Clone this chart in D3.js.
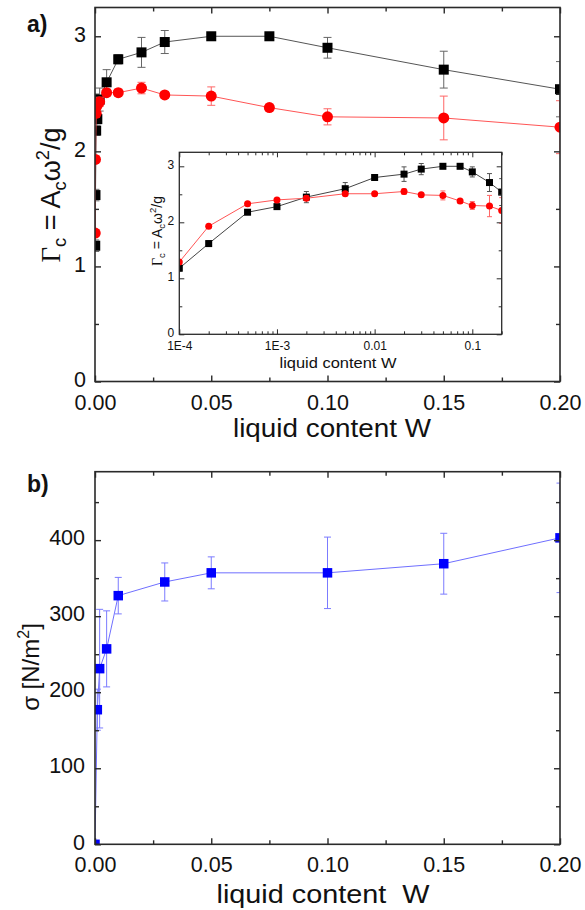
<!DOCTYPE html>
<html>
<head>
<meta charset="utf-8">
<script src="https://cdn.jsdelivr.net/npm/d3@7"></script>
<style>
  html, body { margin: 0; padding: 0; background: #fff; }
  svg { display: block; }
  text { font-family: "Liberation Sans", Arial, sans-serif; fill: #111; }
</style>
</head>
<body>
<svg id="chart" width="585" height="910"></svg>
<script>
// ---- Data: critical acceleration vs. liquid content ----
const liquidW   = [1e-4, 2e-4, 5e-4, 1e-3, 2e-3, 5e-3, 0.01, 0.02, 0.03, 0.05, 0.075, 0.1, 0.15, 0.2];
const gammaBlack    = [1.18, 1.62, 2.18, 2.28, 2.45, 2.60, 2.80, 2.86, 2.95, 3.00, 3.00, 2.90, 2.71, 2.54];
const gammaBlackErr = [0.05, 0.05, 0.04, 0.04, 0.10, 0.11, 0.04, 0.13, 0.10, 0.02, 0.03, 0.09, 0.16, 0.24];
const gammaRed      = [1.29, 1.93, 2.33, 2.40, 2.43, 2.51, 2.51, 2.55, 2.49, 2.48, 2.38, 2.30, 2.29, 2.21];
const gammaRedErr   = [0.03, 0.03, 0.03, 0.03, 0.04, 0.03, 0.03, 0.05, 0.03, 0.08, 0.03, 0.07, 0.19, 0.23];

// ---- Data: tensile strength vs. liquid content ----
const sigmaW   = [0, 0.001, 0.002, 0.005, 0.01, 0.03, 0.05, 0.1, 0.15, 0.2];
const sigma    = [0, 177, 231, 257, 327, 345, 357, 357, 369, 403];
const sigmaErr = [0, 27, 78, 50, 24, 25, 21, 47, 40, 72];

// ---- Tick values ----
const xTicksLin  = [0, 0.05, 0.10, 0.15, 0.20];
const xMinorLin  = [0.025, 0.075, 0.125, 0.175];
const gammaTicks = [0, 1, 2, 3];
const gammaMinor = [0.5, 1.5, 2.5];
const sigmaTicks = [0, 100, 200, 300, 400];
const sigmaMinor = [50, 150, 250, 350, 450];
const logTicks   = [1e-4, 1e-3, 1e-2, 1e-1];
const logLabels  = ["1E-4", "1E-3", "0.01", "0.1"];

const svg = d3.select("#chart");
const frameColor = "#2a2a2a";

const pts = (xs, ys, es) => xs.map((x, i) => ({x, y: ys[i], e: es[i]}));

// Frame + inward ticks on all four sides
function frame(g, x, y, opt) {
  const [x0, x1] = x.range(), [y0, y1] = y.range();
  const L = opt.major, l = opt.minor;
  const ax = (axis, tx, ty) => {
    const a = g.append("g").attr("transform", `translate(${tx},${ty})`).call(axis);
    a.select(".domain").remove();
    a.selectAll("line").attr("stroke", frameColor).attr("stroke-width", opt.tickW);
    return a;
  };
  const bottom = ax(d3.axisBottom(x).tickValues(opt.xTicks).tickSize(-L).tickPadding(opt.xPad)
      .tickFormat(opt.xFormat), 0, y0);
  bottom.selectAll("text").attr("font-size", opt.fs).attr("fill", "#111");
  ax(d3.axisBottom(x).tickValues(opt.xMinor).tickSize(-l).tickFormat(""), 0, y0);
  ax(d3.axisTop(x).tickValues(opt.xTicks).tickSize(-L).tickFormat(""), 0, y1);
  ax(d3.axisTop(x).tickValues(opt.xMinor).tickSize(-l).tickFormat(""), 0, y1);
  const left = ax(d3.axisLeft(y).tickValues(opt.yTicks).tickSize(-L).tickPadding(opt.yPad)
      .tickFormat(d3.format("d")), x0, 0);
  left.selectAll("text").attr("font-size", opt.fs).attr("fill", "#111").attr("dy", "0.22em");
  ax(d3.axisLeft(y).tickValues(opt.yMinor).tickSize(-l).tickFormat(""), x0, 0);
  ax(d3.axisRight(y).tickValues(opt.yTicks).tickSize(-L).tickFormat(""), x1, 0);
  ax(d3.axisRight(y).tickValues(opt.yMinor).tickSize(-l).tickFormat(""), x1, 0);
  g.append("rect").attr("x", x0).attr("y", y1).attr("width", x1 - x0).attr("height", y0 - y1)
    .attr("fill", "none").attr("stroke", frameColor).attr("stroke-width", opt.frameW);
}

function clip(id, x, y) {
  const [x0, x1] = x.range(), [y0, y1] = y.range();
  svg.append("clipPath").attr("id", id).append("rect")
    .attr("x", x0).attr("y", y1).attr("width", x1 - x0).attr("height", y0 - y1);
  return `url(#${id})`;
}

function series(g, data, x, y, s) {
  g.append("path").datum(data)
    .attr("d", d3.line().x(d => x(d.x)).y(d => y(d.y)))
    .attr("fill", "none").attr("stroke", s.line).attr("stroke-width", s.lineW);
  const eb = g.append("g").attr("stroke", s.err).attr("stroke-width", 1);
  data.filter(d => d.e > 0).forEach(d => {
    const cx = x(d.x);
    eb.append("line").attr("x1", cx).attr("x2", cx).attr("y1", y(d.y - d.e)).attr("y2", y(d.y + d.e));
    [d.y - d.e, d.y + d.e].forEach(v =>
      eb.append("line").attr("x1", cx - s.cap).attr("x2", cx + s.cap).attr("y1", y(v)).attr("y2", y(v)));
  });
  if (s.shape === "circle") {
    g.append("g").selectAll("circle").data(data).join("circle")
      .attr("cx", d => x(d.x)).attr("cy", d => y(d.y)).attr("r", s.size / 2)
      .attr("fill", s.fill);
  } else {
    g.append("g").selectAll("rect").data(data).join("rect")
      .attr("x", d => x(d.x) - s.size / 2).attr("y", d => y(d.y) - s.size / 2)
      .attr("width", s.size).attr("height", s.size).attr("fill", s.fill);
  }
}

function gammaLabel(g, cx, cy, fs) {
  const t = g.append("text").attr("transform", `translate(${cx},${cy}) rotate(-90)`)
    .attr("text-anchor", "middle").attr("font-size", fs);
  const sub = fs * 0.68, sh = fs * 0.22;
  t.append("tspan").attr("font-family", "Liberation Serif").text("\u0393");
  t.append("tspan").attr("font-size", sub).attr("dy", sh).text("c");
  t.append("tspan").attr("dy", -sh).text(" = A");
  t.append("tspan").attr("font-size", sub).attr("dy", sh).text("c");
  t.append("tspan").attr("dy", -sh).text("\u03c9");
  t.append("tspan").attr("font-size", sub).attr("dy", -fs * 0.42).text("2");
  t.append("tspan").attr("dy", fs * 0.42).text("/g");
}

// ================= Panel a =================
const xA = d3.scaleLinear().domain([0, 0.2]).range([95, 560]);
const yA = d3.scaleLinear().domain([0, 3.25]).range([381.5, 7.5]);
const gA = svg.append("g");
const clipA = clip("clipA", xA, yA);
const dA = gA.append("g").attr("clip-path", clipA);
series(dA, pts(liquidW, gammaBlack, gammaBlackErr), xA, yA,
  {line: "#555", lineW: 1, err: "#666", cap: 4, shape: "rect", size: 10, fill: "#000"});
series(dA, pts(liquidW, gammaRed, gammaRedErr), xA, yA,
  {line: "#f55", lineW: 1, err: "#f66", cap: 4, shape: "circle", size: 11, fill: "#f00"});
frame(gA, xA, yA, {xTicks: xTicksLin, xMinor: xMinorLin, yTicks: gammaTicks, yMinor: gammaMinor,
  major: 6, minor: 4, tickW: 1.4, frameW: 1.6, fs: 21.5, xPad: 13, yPad: 9, xFormat: d3.format(".2f")});

gA.append("text").attr("x", 27).attr("y", 32).attr("font-size", 23).attr("font-weight", "bold").text("a)");
gA.append("text").attr("x", 332).attr("y", 437)
  .attr("text-anchor", "middle").attr("font-size", 26)
  .attr("textLength", 198).attr("lengthAdjust", "spacingAndGlyphs").text("liquid content W");
gammaLabel(gA, 60, 195, 27);

// ---- Inset (log scale) ----
const xI = d3.scaleLog().domain([1e-4, 0.2]).range([179.3, 501.7]);
const yI = d3.scaleLinear().domain([0, 3.25]).range([334.3, 152.3]);
const gI = svg.append("g");
gI.append("rect").attr("x", 179.3).attr("y", 152.3).attr("width", 501.7 - 179.3).attr("height", 334.3 - 152.3)
  .attr("fill", "#fff");
const logMinor = [];
[1e-4, 1e-3, 1e-2, 1e-1].forEach(dec => { for (let k = 2; k <= 9; k++) { const v = dec * k; if (v <= 0.2 + 1e-12) logMinor.push(v); } });
const clipI = clip("clipI", xI, yI);
const dI = gI.append("g").attr("clip-path", clipI);
series(dI, pts(liquidW, gammaBlack, gammaBlackErr), xI, yI,
  {line: "#444", lineW: 1, err: "#555", cap: 2.5, shape: "rect", size: 7, fill: "#000"});
series(dI, pts(liquidW, gammaRed, gammaRedErr), xI, yI,
  {line: "#f55", lineW: 1, err: "#f66", cap: 2.5, shape: "circle", size: 7, fill: "#f00"});
frame(gI, xI, yI, {xTicks: logTicks, xMinor: logMinor, yTicks: gammaTicks, yMinor: gammaMinor,
  major: 5, minor: 3, tickW: 1, frameW: 1.3, fs: 12, xPad: 7, yPad: 5,
  xFormat: (d, i) => logLabels[i]});
gI.append("text").attr("x", 338).attr("y", 368).attr("text-anchor", "middle")
  .attr("font-size", 15).attr("textLength", 117).attr("lengthAdjust", "spacingAndGlyphs")
  .text("liquid content W");
gammaLabel(gI, 162, 231, 14);

// ================= Panel b =================
const xB = d3.scaleLinear().domain([0, 0.2]).range([95, 560]);
const yB = d3.scaleLinear().domain([0, 490]).range([844.3, 471.7]);
const gB = svg.append("g");
const clipB = clip("clipB", xB, yB);
const dB = gB.append("g").attr("clip-path", clipB);
series(dB, pts(sigmaW, sigma, sigmaErr), xB, yB,
  {line: "#6f6fff", lineW: 1, err: "#7b7bff", cap: 3.5, shape: "rect", size: 9.5, fill: "#0000ff"});
frame(gB, xB, yB, {xTicks: xTicksLin, xMinor: xMinorLin, yTicks: sigmaTicks, yMinor: sigmaMinor,
  major: 6, minor: 4, tickW: 1.4, frameW: 1.6, fs: 21.5, xPad: 12.5, yPad: 10, xFormat: d3.format(".2f")});

gB.append("text").attr("x", 27).attr("y", 492).attr("font-size", 23).attr("font-weight", "bold").text("b)");
gB.append("text").attr("x", 323).attr("y", 903)
  .attr("text-anchor", "middle").attr("font-size", 26).attr("xml:space", "preserve")
  .attr("textLength", 213).attr("lengthAdjust", "spacingAndGlyphs").text("liquid content  W");

const sl = gB.append("text").attr("transform", "translate(39,667) rotate(-90)")
  .attr("text-anchor", "middle").attr("font-size", 24);
sl.append("tspan").text("\u03c3 [N/m");
sl.append("tspan").attr("font-size", 16).attr("dy", -10).text("2");
sl.append("tspan").attr("dy", 10).text("]");
</script>
</body>
</html>
